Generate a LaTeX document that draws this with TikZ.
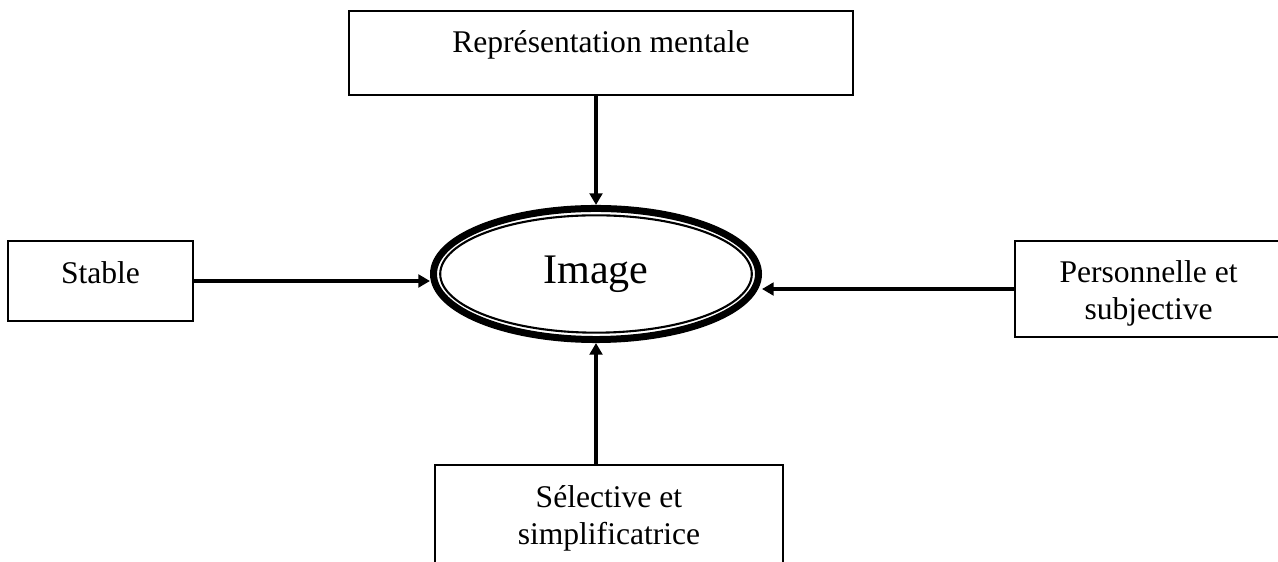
\documentclass[tikz,border=0pt]{standalone}
\usepackage{fontspec}
\setmainfont{Liberation Serif}
\usetikzlibrary{arrows.meta,positioning,calc,shapes.geometric}

\tikzset{
  box/.style={draw,line width=0.75pt,inner sep=0pt,outer sep=0pt,anchor=north west,align=flush center,font=\fontsize{12}{14.4}\selectfont},
  arr/.style={line width=1.5pt,-{Triangle[length=4.4pt,width=4.8pt]}}
}

\begin{document}
\begin{tikzpicture}[x=0.38pt,y=-0.38pt]
\useasboundingbox (0,0) rectangle (1278,562);

\node[draw,ellipse,line width=2.66pt,inner sep=0pt,minimum width=123.5pt,minimum height=49.8pt,font=\fontsize{16}{19}\selectfont] (img) at (596,274) {Image};
\draw[line width=0.8pt] (img.center) ellipse [x radius=59.2pt,y radius=22.3pt];

\node[box,text width=191.5pt,text height=15.6pt,text depth=16.3pt] (repr) at (349,11) {Représentation mentale};
\node[box,text width=70.3pt,text height=16pt,text depth=14.4pt] (stable) at (8,241) {Stable};
\node[box,text width=101.5pt,text height=15.6pt,text depth=20.9pt] (perso) at (1015,241) {Personnelle et\\subjective};
\node[box,text width=132.2pt,text height=16pt,text depth=27.7pt] (select) at (435,465) {Sélective et\\simplificatrice};

\draw[arr] (img.north |- repr.south) -- (img.north);
\draw[arr] (stable.east) -- (stable.east -| img.west);
\draw[arr] (perso.west) -- (perso.west -| img.east);
\draw[arr] (img.south |- select.north) -- (img.south);
\end{tikzpicture}
\end{document}
